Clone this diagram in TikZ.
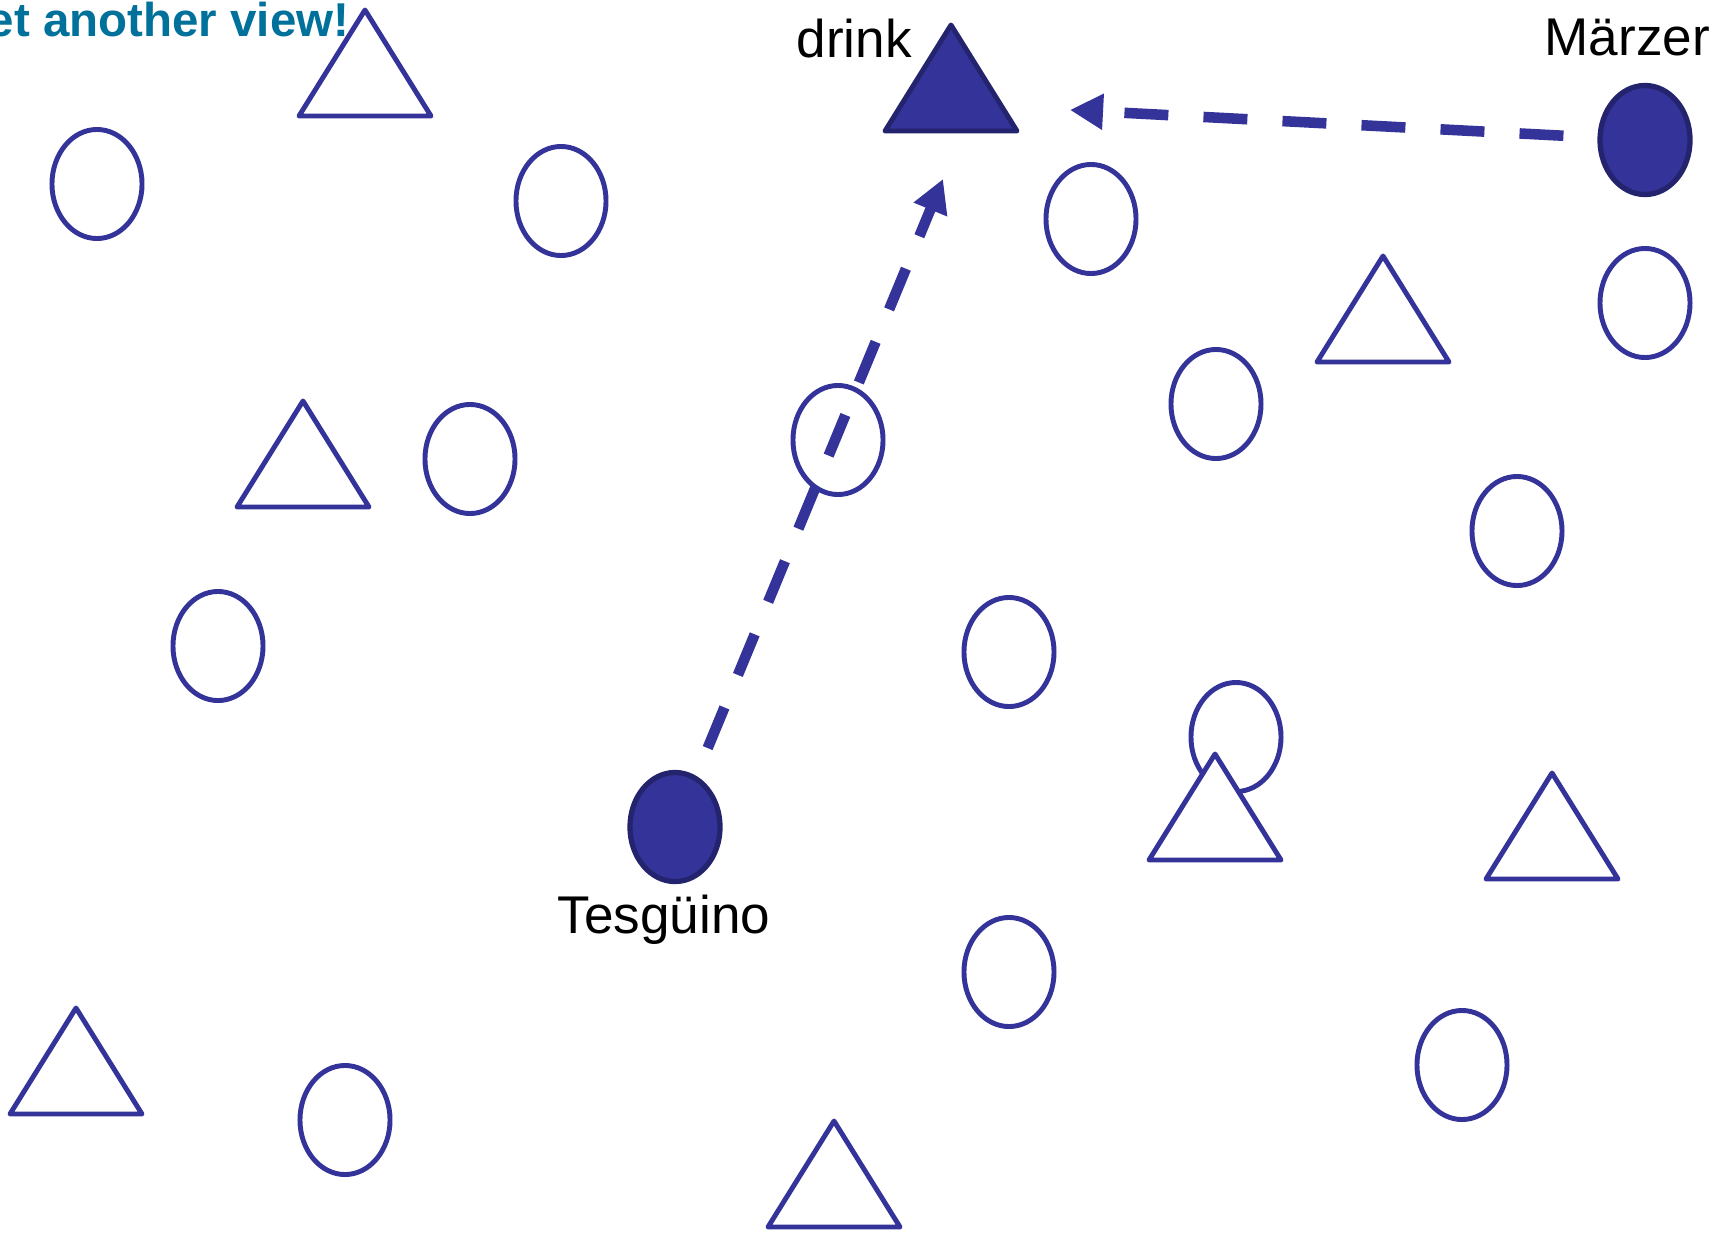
\documentclass[tikz,border=0pt]{standalone}
\usepackage{fontspec}
\setmainfont{Liberation Sans}
\usetikzlibrary{arrows.meta,shapes.geometric}
\definecolor{shapeblue}{RGB}{51,51,153}
\definecolor{shapeedge}{RGB}{36,36,110}
\definecolor{titleteal}{RGB}{0,113,155}

\begin{document}
\begin{tikzpicture}[x=0.01cm,y=-0.01cm,
	oval/.style={ellipse,draw=shapeblue,line width=1.4pt,minimum width=0.9cm,minimum height=1.09cm,inner sep=0pt},
	fulloval/.style={oval,fill=shapeblue,draw=shapeedge,line width=1.5pt},
	tri/.style={draw=shapeblue,fill=white,line width=1.4pt,line join=round},
	fulltri/.style={tri,fill=shapeblue,draw=shapeedge},
	lbl/.style={anchor=base west,inner sep=0pt,font=\fontsize{15.1}{18}\selectfont},
	flow/.style={draw=shapeblue,line width=3pt,dash pattern=on 12.5pt off 10pt,-{Triangle[length=9.4pt,width=9.7pt]}}]
	\useasboundingbox (0,0) rectangle (1709,1239);
	% empty ovals
	\foreach \x/\y [count=\i] in {97/184,561/201,1091/219,1645/303,1216/404,470/459,838/440,1517/531,218/646,1009/652,1236/737,1009/972,1462/1065,345/1120}
		\node[oval] (o\i) at (\x,\y) {};
	% empty triangles, given by their apex
	\foreach \x/\y in {365/10,303/401,1383/256,1215/754,1552/773,76/1008,834/1121}
		\draw[tri] (\x,\y) -- ++(66,106) -- ++(-132,0) -- cycle;
	% the three marked ones
	\draw[fulltri] (951,25) -- ++(66,106) -- ++(-132,0) -- cycle;
	\node[fulloval] (marzer) at (1645,140) {};
	\node[fulloval] (tes) at (675,827) {};
	\coordinate (tipL) at (943,179);
	\coordinate (tipR) at (1070,110);
	\draw[flow,shorten <=0.3cm] (tes) -- (tipL);
	\draw[flow,shorten <=0.34cm] (marzer) -- (tipR);
	\node[lbl] (drink) at (796,57) {drink};
	\node[lbl] (marzerlbl) at (1544,55) {Märzer};
	\node[lbl] (teslbl) at (557,933) {Tesgüino};
	\node[anchor=base east,inner sep=0pt,text=titleteal,font=\bfseries\fontsize{13.5}{16}\selectfont] (title) at (350,36) {Yet another view!};
\end{tikzpicture}
\end{document}
